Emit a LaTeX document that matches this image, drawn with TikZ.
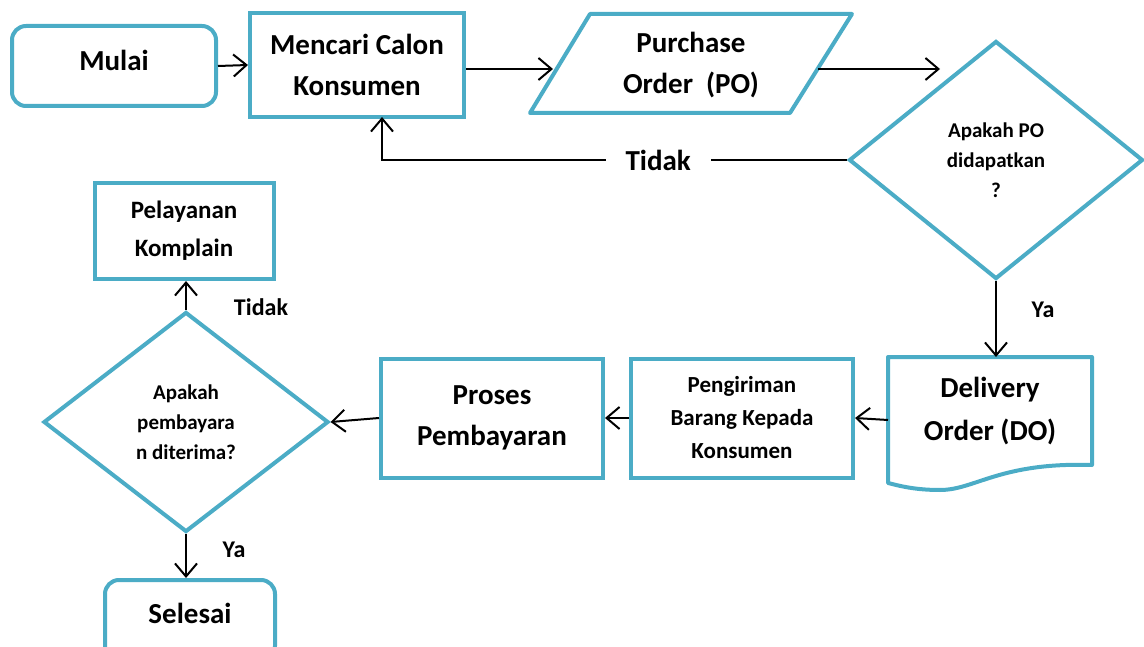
\documentclass[tikz,border=0pt]{standalone}
\usepackage{fontspec}
\setmainfont{Carlito}
\usetikzlibrary{arrows.meta,shapes.geometric}
\definecolor{boxblue}{HTML}{4BACC6}
\begin{document}
\begin{tikzpicture}[x=1pt,y=-1pt,
  box/.style={draw=boxblue,line width=4pt,align=center,inner sep=0pt,fill=white},
  txt/.style={align=center,inner sep=0pt},
  arr/.style={draw=black,line width=2pt,-{Straight Barb[length=13pt,width=22pt,line width=2pt]}},
  bigf/.style={font=\bfseries\fontsize{29}{41}\selectfont},
  midf/.style={font=\bfseries\fontsize{25}{38}\selectfont},
  smlf/.style={font=\bfseries\fontsize{21}{30}\selectfont},
  lblf/.style={font=\bfseries\fontsize{24}{28}\selectfont}]
\useasboundingbox (0,0) rectangle (1144,647);
\clip (0,0) rectangle (1144,647);

% shapes
\node[box,rounded corners=14pt,minimum width=204pt,minimum height=80pt] (mulai) at (114,66) {};
\node[txt,bigf] (mulaitxt) at (114,60) {Mulai};
\node[box,bigf,minimum width=214pt,minimum height=104pt] (mencari) at (357,65) {Mencari Calon\\Konsumen};
\draw[draw=boxblue,line width=4pt,line join=round] (590,14) -- (852,14) -- (790,113) -- (530,113) -- cycle;
\node[txt,bigf] (po) at (691,65) {Purchase\\Order\ \ (PO)};
\node[box,smlf,shape=diamond,minimum width=294pt,minimum height=238pt] (d1) at (996,160) {Apakah PO\\didapatkan\\?};
\draw[draw=boxblue,line width=4pt,line join=round] (888,357) -- (1092,357) -- (1092,465)
  .. controls (1000,462) and (975,490) .. (940,490) .. controls (915,490) and (900,486) .. (888,483) -- cycle;
\node[txt,font=\bfseries\fontsize{29}{43}\selectfont] (do) at (990,411) {Delivery\\Order (DO)};
\node[box,font=\bfseries\fontsize{23}{33}\selectfont,minimum width=222pt,minimum height=119pt] (peng) at (742,418) {Pengiriman\\Barang Kepada\\Konsumen};
\node[box,font=\bfseries\fontsize{29}{41}\selectfont,minimum width=222pt,minimum height=119pt] (proses) at (492,418) {Proses\\Pembayaran};
\node[box,smlf,shape=diamond,minimum width=285pt,minimum height=220pt] (d2) at (186,422) {Apakah\\pembayara\\n diterima?};
\node[box,midf,minimum width=179pt,minimum height=96pt] (pel) at (184,231) {Pelayanan\\Komplain};
\node[box,rounded corners=14pt,minimum width=170pt,minimum height=80pt,anchor=north] (selesai) at (190,578) {};
\node[txt,bigf] (selesaitxt) at (190,613) {Selesai};

% coordinates for free ends
\coordinate (poin) at (553,69);
\coordinate (poout) at (818,69);
\coordinate (d1in) at (940,69);
\coordinate (loopx) at (382,160);
\coordinate (loopend) at (382,117);
\coordinate (dotop) at (996,357);
\coordinate (doleft) at (888,420);

% connectors
\draw[arr] (mulai.east) -- (mencari.west);
\draw[arr] (mencari.east |- poin) -- (poin);
\draw[arr] (poout) -- (d1in);
\draw[arr] (d1.west) -- node[pos=0.406,fill=white,inner xsep=20pt,inner ysep=4pt,bigf] (tidak1) {Tidak} (loopx) -- (loopend);
\draw[arr] (d1.south) -- (dotop);
\node[lblf] (ya1) at (1043,310) {Ya};
\draw[arr] (doleft) -- (peng.east);
\draw[arr] (peng.west) -- (proses.east);
\draw[arr] (proses.west) -- (d2.east);
\draw[arr] (d2.north) -- (d2.north |- pel.south);
\node[lblf] (tidak2) at (261,307) {Tidak};
\draw[arr] (d2.south) -- (d2.south |- selesai.north);
\node[lblf] (ya2) at (234,550) {Ya};
\end{tikzpicture}
\end{document}
